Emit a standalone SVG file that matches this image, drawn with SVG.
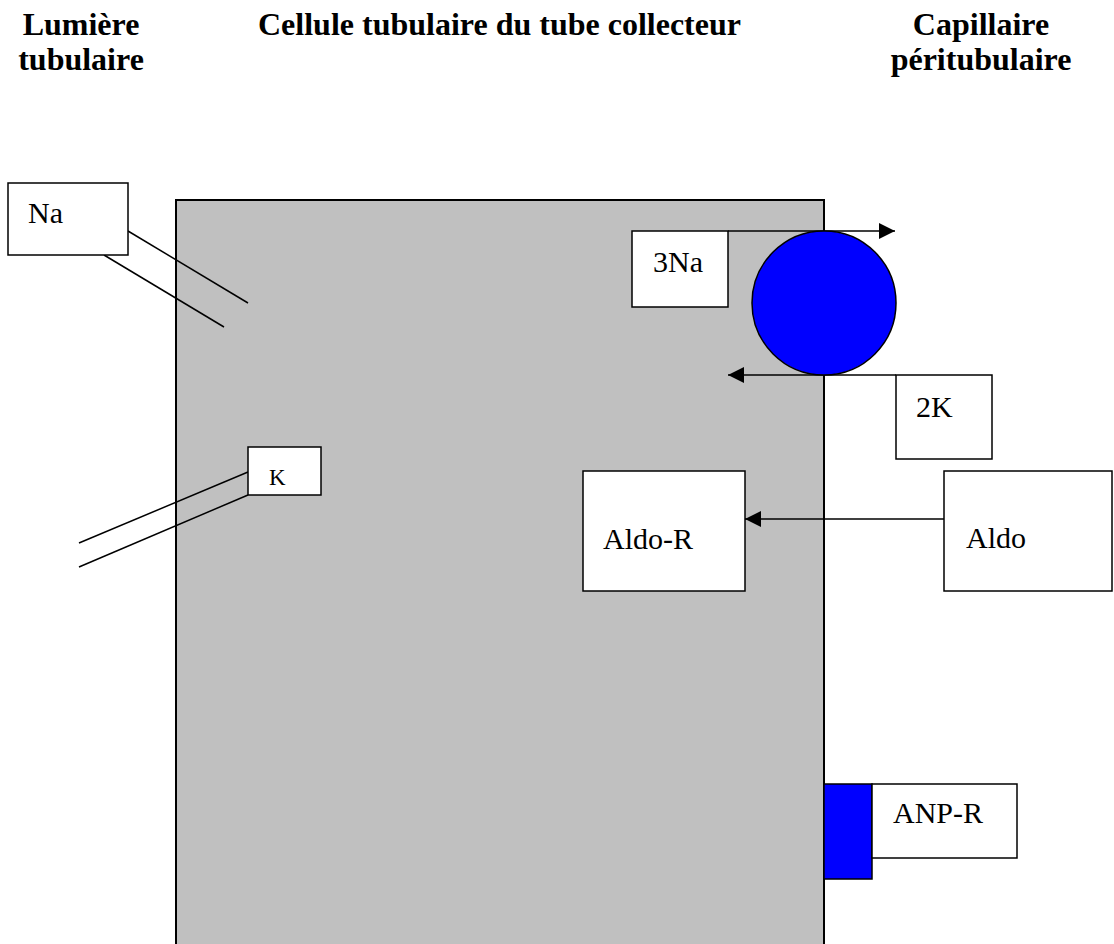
<svg xmlns="http://www.w3.org/2000/svg" width="1114" height="944" viewBox="0 0 1114 944">
<defs>
<style>
.hdr{font-family:"Liberation Serif","Times New Roman",serif;font-weight:bold;font-size:32px;fill:#000}
.lbl{font-family:"Liberation Serif","Times New Roman",serif;font-size:30px;fill:#000}
.box{fill:#fff;stroke:#000;stroke-width:1.5}
.ln{stroke:#000;stroke-width:1.5;fill:none}
</style>
<marker id="ah" viewBox="0 0 16 16" refX="16" refY="8" markerWidth="16" markerHeight="16" markerUnits="userSpaceOnUse" orient="auto">
<path d="M0,0 L16,8 L0,16 Z" fill="#000"/>
</marker>
</defs>
<rect width="1114" height="944" fill="#fff"/>
<g id="headers">
<text class="hdr" x="81" y="35" text-anchor="middle">Lumière</text>
<text class="hdr" x="81" y="70" text-anchor="middle">tubulaire</text>
<text class="hdr" x="258" y="35">Cellule tubulaire du tube collecteur</text>
<text class="hdr" x="981" y="35" text-anchor="middle">Capillaire</text>
<text class="hdr" x="981" y="70" text-anchor="middle">péritubulaire</text>
</g>
<g id="cell">
<rect x="176" y="200" width="648" height="760" fill="#c0c0c0" stroke="#000" stroke-width="2"/>
</g>
<g id="connectors">
<line class="ln" x1="128" y1="231" x2="248" y2="303"/>
<line class="ln" x1="104" y1="255" x2="224" y2="327"/>
<line class="ln" x1="248" y1="472" x2="79" y2="543"/>
<line class="ln" x1="248" y1="495" x2="79" y2="567"/>
<line class="ln" x1="728" y1="231" x2="895" y2="231" marker-end="url(#ah)"/>
<line class="ln" x1="896" y1="375" x2="728" y2="375" marker-end="url(#ah)"/>
<line class="ln" x1="944" y1="519" x2="745" y2="519" marker-end="url(#ah)"/>
</g>
<g id="na">
<rect class="box" x="8" y="183" width="120" height="72"/>
<text class="lbl" x="28" y="223">Na</text>
</g>
<g id="k">
<rect class="box" x="248" y="447" width="73" height="48"/>
<text class="lbl" x="269" y="485" style="font-size:23px">K</text>
</g>
<g id="na3">
<rect class="box" x="632" y="231" width="96" height="76"/>
<text class="lbl" x="653" y="272">3Na</text>
</g>
<g id="pump">
<circle cx="824" cy="303" r="72" fill="#0000ff" stroke="#000" stroke-width="1.5"/>
</g>
<g id="k2">
<rect class="box" x="896" y="375" width="96" height="84"/>
<text class="lbl" x="916" y="417">2K</text>
</g>
<g id="aldor">
<rect class="box" x="583" y="471" width="162" height="120"/>
<text class="lbl" x="603" y="549">Aldo-R</text>
</g>
<g id="aldo">
<rect class="box" x="944" y="471" width="168" height="120"/>
<text class="lbl" x="966" y="548">Aldo</text>
</g>
<g id="anpr">
<rect x="824" y="784" width="48" height="95" fill="#0000ff" stroke="#000" stroke-width="1.5"/>
<rect class="box" x="872" y="784" width="145" height="74"/>
<text class="lbl" x="893" y="823">ANP-R</text>
</g>
</svg>
